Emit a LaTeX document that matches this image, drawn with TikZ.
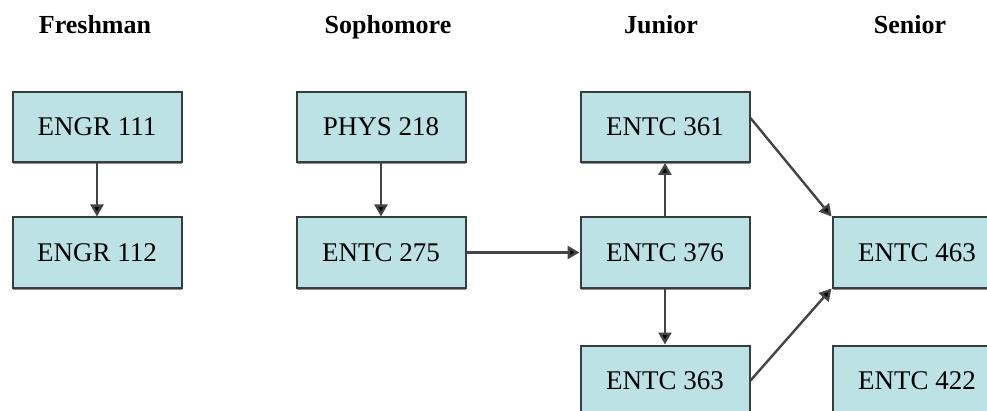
\documentclass[tikz,border=0pt]{standalone}
\usepackage{fontspec}
\setmainfont{Liberation Serif}
\usetikzlibrary{arrows.meta,shadows}

\definecolor{coursefill}{RGB}{188,226,229}
\definecolor{courseline}{RGB}{52,62,62}
\definecolor{linkgray}{RGB}{68,68,68}

\tikzset{
    course/.style={draw=courseline, line width=2pt, fill=coursefill,
        minimum width=169pt, minimum height=70pt, inner sep=0pt,
        drop shadow={shadow xshift=0pt, shadow yshift=-2.5pt, fill=gray!90, opacity=1},
        font=\fontsize{27}{30}\selectfont},
    year/.style={anchor=base, font=\fontsize{26}{30}\selectfont\bfseries},
    link/.style={draw=linkgray, line width=2.4pt, -{Triangle[length=12pt,width=13pt,fill=black]}}
}

\begin{document}
\begin{tikzpicture}[x=1pt,y=1pt]
    \useasboundingbox (0,0) rectangle (987,410);
    \clip (0,0) rectangle (987,410);

    % Titres des annees
    \node[year] (fresh) at (95,376) {Freshman};
    \node[year] (soph)  at (388,376) {Sophomore};
    \node[year] (jun)   at (661,376) {Junior};
    \node[year] (sen)   at (910,376) {Senior};

    % Cours
    \node[course] (engr111) at (97,283) {ENGR 111};
    \node[course] (engr112) at (97,157.5) {ENGR 112};
    \node[course] (phys218) at (381,283) {PHYS 218};
    \node[course] (entc275) at (381,157.5) {ENTC 275};
    \node[course] (entc361) at (665,283) {ENTC 361};
    \node[course] (entc376) at (665,157.5) {ENTC 376};
    \node[course] (entc363) at (665,29.5) {ENTC 363};
    \node[course] (entc463) at (917,157.5) {ENTC 463};
    \node[course] (entc422) at (917,29.5) {ENTC 422};

    % Prerequis
    \draw[link] (engr111) -- (engr112);
    \draw[link] (phys218) -- (entc275);
    \draw[link] (entc275) -- (entc376);
    \draw[link] (entc376) -- (entc361);
    \draw[link] (entc376) -- (entc363);
    \draw[link] (entc361.6) -- (entc463.north west);
    \draw[link] (entc363.east) -- (entc463.south west);
\end{tikzpicture}
\end{document}
